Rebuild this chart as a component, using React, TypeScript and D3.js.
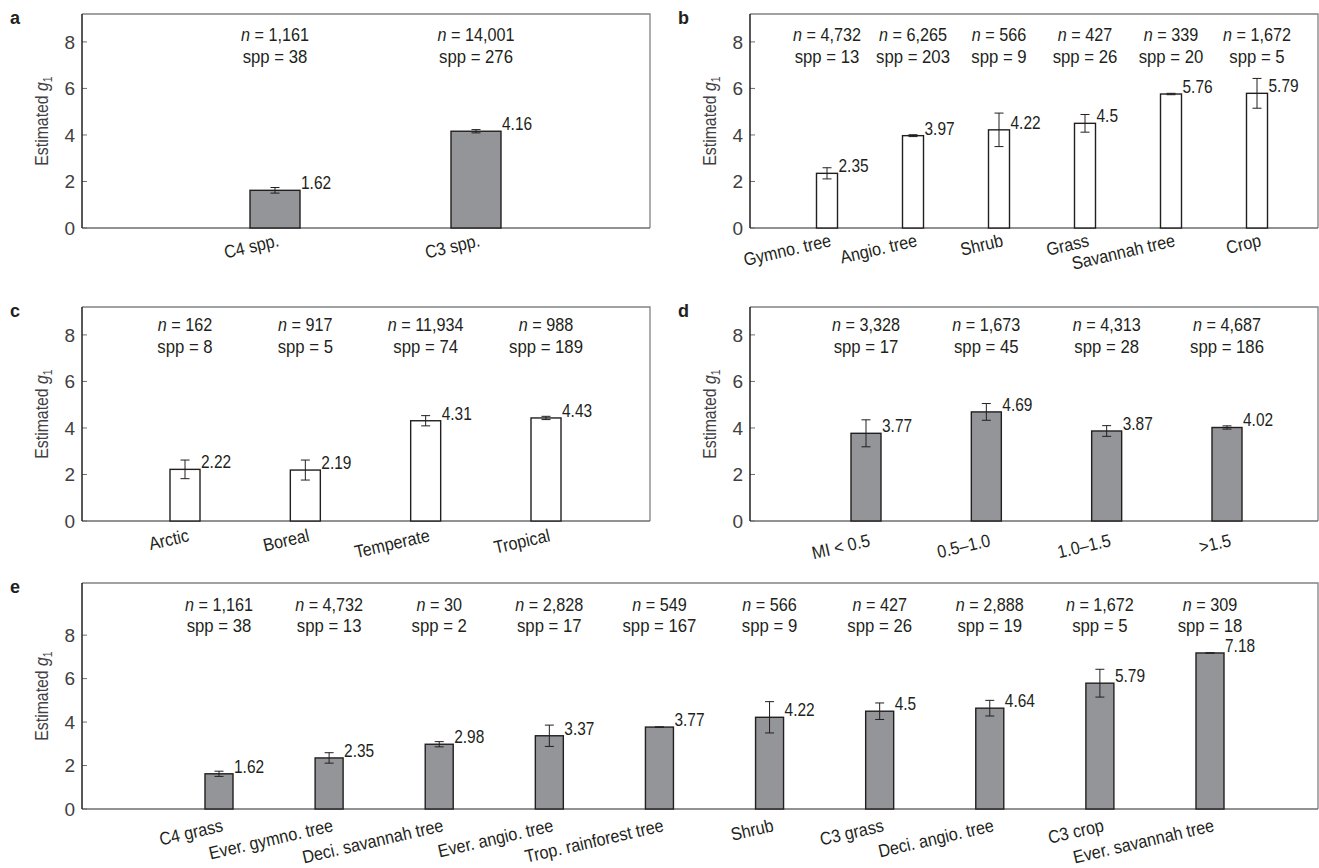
import React from 'react';
import * as d3 from 'd3';

// ---- data ----
const yTicks = [0, 2, 4, 6, 8];

const catsA = ['C4 spp.', 'C3 spp.'];
const valsA = [1.62, 4.16];
const errsA = [0.12, 0.07];
const nA = ['1,161', '14,001'];
const sppA = ['38', '276'];

const catsB = ['Gymno. tree', 'Angio. tree', 'Shrub', 'Grass', 'Savannah tree', 'Crop'];
const valsB = [2.35, 3.97, 4.22, 4.5, 5.76, 5.79];
const errsB = [0.24, 0.04, 0.72, 0.38, 0.03, 0.64];
const nB = ['4,732', '6,265', '566', '427', '339', '1,672'];
const sppB = ['13', '203', '9', '26', '20', '5'];

const catsC = ['Arctic', 'Boreal', 'Temperate', 'Tropical'];
const valsC = [2.22, 2.19, 4.31, 4.43];
const errsC = [0.4, 0.43, 0.22, 0.07];
const nC = ['162', '917', '11,934', '988'];
const sppC = ['8', '5', '74', '189'];

const catsD = ['MI < 0.5', '0.5\u20131.0', '1.0\u20131.5', '>1.5'];
const valsD = [3.77, 4.69, 3.87, 4.02];
const errsD = [0.58, 0.36, 0.23, 0.07];
const nD = ['3,328', '1,673', '4,313', '4,687'];
const sppD = ['17', '45', '28', '186'];

const catsE = ['C4 grass', 'Ever. gymno. tree', 'Deci. savannah tree', 'Ever. angio. tree', 'Trop. rainforest tree',
  'Shrub', 'C3 grass', 'Deci. angio. tree', 'C3 crop', 'Ever. savannah tree'];
const valsE = [1.62, 2.35, 2.98, 3.37, 3.77, 4.22, 4.5, 4.64, 5.79, 7.18];
const errsE = [0.12, 0.24, 0.12, 0.49, 0.01, 0.72, 0.38, 0.36, 0.64, 0.01];
const nE = ['1,161', '4,732', '30', '2,828', '549', '566', '427', '2,888', '1,672', '309'];
const sppE = ['38', '13', '2', '17', '167', '9', '26', '19', '5', '18'];

const FONT = "'Liberation Sans', Arial, sans-serif";
const TXT = '#231f20';
const GREY = '#939598';

// text squeezed horizontally, the original uses a narrow face
function SText(props: {
  x: number; y: number; sx: number; rotate?: number; anchor?: string; size?: number;
  fill?: string; children: React.ReactNode;
}) {
  const rot = props.rotate ? ` rotate(${props.rotate})` : '';
  return (
    <text transform={`translate(${props.x},${props.y})${rot} scale(${props.sx},1)`}
      textAnchor={props.anchor || 'start'} fontFamily={FONT} fontSize={props.size || 18} fill={props.fill || TXT}>
      {props.children}
    </text>
  );
}

type PanelProps = {
  letter: string;
  box: { x0: number; x1: number; y0: number; y1: number };
  yMax: number;
  cats: string[];
  vals: number[];
  errs: number[];
  ns: string[];
  spps: string[];
  fill: string;
  barW: number;
  padL: number;
  padR: number;
  annY: [number, number];
  labelDy: number;
};

function Panel(p: PanelProps) {
  const { box } = p;
  const x = d3.scalePoint<string>().domain(p.cats).range([box.x0 + p.padL, box.x1 - p.padR]);
  const y = d3.scaleLinear().domain([0, p.yMax]).range([box.y1, box.y0]);
  const midY = (box.y0 + box.y1) / 2;
  return (
    <g>
      <text x={box.x0 - 72} y={box.y0 + 10} fontFamily={FONT} fontWeight="bold" fontSize={18} fill={TXT}>{p.letter}</text>
      {/* frame */}
      <path d={`M${box.x0},${box.y0}H${box.x1}V${box.y1}`} fill="none" stroke="#808285" strokeWidth={1.3} />
      <line x1={box.x0} x2={box.x1} y1={box.y1} y2={box.y1} stroke="#6d6e71" strokeWidth={1.5} />
      {/* y axis */}
      {yTicks.map(t => (
        <g key={t}>
          <line x1={box.x0} x2={box.x0 + 5} y1={y(t)} y2={y(t)} stroke="#6d6e71" strokeWidth={1} />
          <text x={box.x0 - 7} y={y(t)} dy="0.36em" textAnchor="end" fontFamily={FONT} fontSize={19} fill="#414042">{t}</text>
        </g>
      ))}
      <line x1={box.x0} x2={box.x0} y1={box.y0} y2={box.y1} stroke={TXT} strokeWidth={1.5} />
      <text transform={`translate(${box.x0 - 34},${midY}) rotate(-90) scale(0.88,1)`} textAnchor="middle"
        fontFamily={FONT} fontSize={18} fill="#414042">
        Estimated <tspan fontStyle="italic">g</tspan><tspan fontSize={12} dy={4}>1</tspan>
      </text>
      {/* bars */}
      {p.cats.map((c, i) => {
        const cx = x(c) as number;
        const v = p.vals[i];
        const e = p.errs[i];
        return (
          <g key={c}>
            <rect x={cx - p.barW / 2} y={y(v)} width={p.barW} height={box.y1 - y(v)} fill={p.fill} stroke={TXT} strokeWidth={1.4} />
            <path d={`M${cx - 4.5},${y(v + e)}H${cx + 4.5}M${cx},${y(v + e)}V${y(v - e)}M${cx - 4.5},${y(v - e)}H${cx + 4.5}`}
              stroke={TXT} strokeWidth={1} fill="none" />
            <SText x={cx + p.barW / 2 + 1} y={y(v) - 1} sx={0.86}>{v}</SText>
            <SText x={cx} y={p.annY[0]} sx={0.9} anchor="middle">
              <tspan fontStyle="italic">n</tspan> = {p.ns[i]}
            </SText>
            <SText x={cx} y={p.annY[1]} sx={0.93} anchor="middle">spp = {p.spps[i]}</SText>
            <SText x={cx + 5} y={box.y1 + p.labelDy} rotate={-13} sx={0.9} anchor="end">{c}</SText>
          </g>
        );
      })}
    </g>
  );
}

export default function App() {
  return (
    <svg width={1319} height={868} style={{ position: 'absolute', left: 0, top: 0, background: '#fff' }}>
      <Panel letter="a" box={{ x0: 82, x1: 650, y0: 14, y1: 228 }} yMax={9.2} cats={catsA} vals={valsA} errs={errsA}
        ns={nA} spps={sppA} fill={GREY} barW={50} padL={193} padR={174} annY={[41, 63]} labelDy={18} />
      <Panel letter="b" box={{ x0: 750, x1: 1318, y0: 14, y1: 228 }} yMax={9.2} cats={catsB} vals={valsB} errs={errsB}
        ns={nB} spps={sppB} fill="#fff" barW={21} padL={77} padR={61} annY={[41, 63]} labelDy={18} />
      <Panel letter="c" box={{ x0: 82, x1: 650, y0: 307, y1: 521 }} yMax={9.2} cats={catsC} vals={valsC} errs={errsC}
        ns={nC} spps={sppC} fill="#fff" barW={30} padL={103} padR={104} annY={[331, 353]} labelDy={20} />
      <Panel letter="d" box={{ x0: 750, x1: 1318, y0: 307, y1: 521 }} yMax={9.2} cats={catsD} vals={valsD} errs={errsD}
        ns={nD} spps={sppD} fill={GREY} barW={30} padL={116} padR={91} annY={[331, 353]} labelDy={25} />
      <Panel letter="e" box={{ x0: 82, x1: 1318, y0: 583, y1: 809 }} yMax={10.4} cats={catsE} vals={valsE} errs={errsE}
        ns={nE} spps={sppE} fill={GREY} barW={28} padL={137} padR={108} annY={[611, 632]} labelDy={22} />
    </svg>
  );
}
